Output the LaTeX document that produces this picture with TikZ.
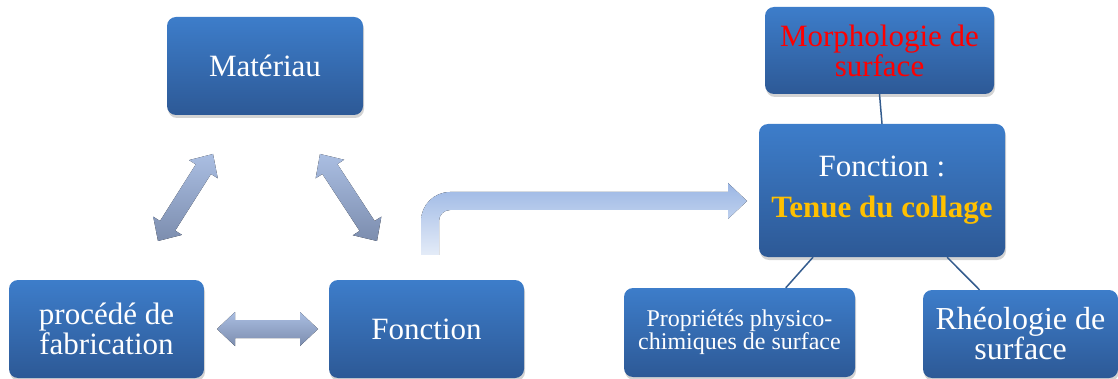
\documentclass[tikz,border=0pt]{standalone}
\usepackage{fontspec}
\setmainfont{Liberation Serif}
\usetikzlibrary{calc,shadows}
\definecolor{boxtop}{RGB}{61,125,202}
\definecolor{boxbot}{RGB}{45,89,150}
\definecolor{arrtop}{RGB}{170,190,226}
\definecolor{arrbot}{RGB}{124,141,174}
\definecolor{benttop}{RGB}{155,182,228}
\definecolor{bentbot}{RGB}{228,236,248}
\definecolor{linkcol}{RGB}{52,92,142}
\definecolor{morphred}{RGB}{255,0,0}
\definecolor{tenuegold}{RGB}{255,192,0}
\tikzset{
  box/.style={rectangle, rounded corners=9pt, top color=boxtop, bottom color=boxbot,
    draw=none, text=white, align=center, inner sep=0pt,
    drop shadow={opacity=0.35, shadow xshift=1pt, shadow yshift=-3pt},
    font=\fontsize{31}{30}\selectfont},
  arrowfill/.style={top color=arrtop, bottom color=arrbot, draw=none},
  link/.style={draw=linkcol, line width=1.5pt}
}
\newcommand\dblarrow[2]{%
  \coordinate (h1) at ($(#1)!18pt!(#2)$);
  \coordinate (h2) at ($(#2)!18pt!(#1)$);
  \fill[arrowfill] (#1) -- ($(h1)!17pt!90:(#2)$) -- ($(h1)!9pt!90:(#2)$)
    -- ($(h2)!9pt!-90:(#1)$) -- ($(h2)!17pt!-90:(#1)$) -- (#2)
    -- ($(h2)!17pt!90:(#1)$) -- ($(h2)!9pt!90:(#1)$)
    -- ($(h1)!9pt!-90:(#2)$) -- ($(h1)!17pt!-90:(#2)$) -- cycle;}
\begin{document}
\begin{tikzpicture}[x=1pt,y=-1pt]
\useasboundingbox (0,0) rectangle (1118,379);
% left triangle
\node[box, minimum width=196pt, minimum height=98pt] (mat) at (265,66) {Matériau};
\node[box, minimum width=195pt, minimum height=98pt] (proc) at (106.5,329) {procédé de\\fabrication};
\node[box, minimum width=195pt, minimum height=98pt] (fonc) at (426.5,329) {Fonction};
% double arrows
\coordinate (a1) at (213,154); \coordinate (a2) at (158,241);
\coordinate (b1) at (320,154); \coordinate (b2) at (377,241);
\coordinate (c1) at (217,329); \coordinate (c2) at (318,329);
\dblarrow{a1}{a2}
\dblarrow{b1}{b2}
\dblarrow{c1}{c2}
% bent arrow
\coordinate (bs) at (430,255);
\coordinate (be) at (747,201);
\fill[top color=benttop, bottom color=bentbot, draw=none]
  (421,255) {[rounded corners=29pt] -- (421,192) -- (600,192)} -- (728,192) -- (728,183)
  -- (be) -- (728,219) -- (728,210) -- (600,210)
  {[rounded corners=11pt] -- (439,210) -- (439,240)} -- (439,255) -- cycle;
% right tree
\node[box, minimum width=229pt, minimum height=87pt, text=morphred] (morph) at (879.5,50.5) {Morphologie de\\surface};
\node[box, minimum width=246pt, minimum height=133pt, font=\fontsize{31}{41}\selectfont] (ctr) at (882,190.5) {Fonction :\\\textcolor{tenuegold}{\textbf{Tenue du collage}}};
\node[box, minimum width=231pt, minimum height=89pt, font=\fontsize{24}{22}\selectfont] (prop) at (739.5,332.5) {Propriétés physico-\\chimiques de surface};
\node[box, minimum width=195pt, minimum height=88pt, font=\fontsize{32}{30}\selectfont] (rheo) at (1020.5,334) {Rhéologie de\\surface};
\draw[link] (morph.south) -- (ctr.north);
\draw[link] ($(ctr.south west)!0.22!(ctr.south east)$) -- ($(prop.north west)!0.70!(prop.north east)$);
\draw[link] ($(ctr.south west)!0.764!(ctr.south east)$) -- ($(rheo.north west)!0.29!(rheo.north east)$);
\end{tikzpicture}
\end{document}
